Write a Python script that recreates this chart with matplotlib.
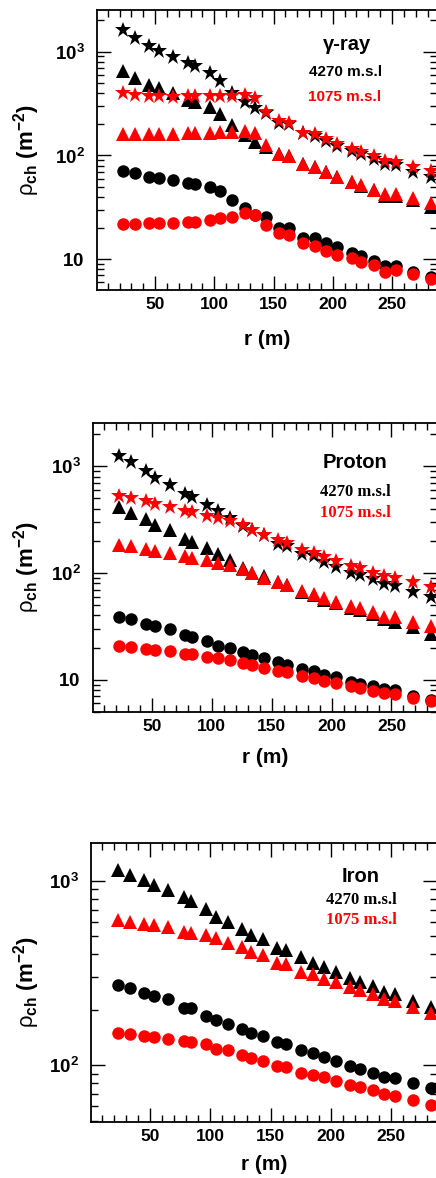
import matplotlib
matplotlib.use("Agg")
import matplotlib.pyplot as plt
from matplotlib.ticker import FixedLocator, MultipleLocator, NullFormatter

plt.rcParams["font.family"] = ["Liberation Sans", "DejaVu Sans"]
plt.rcParams["mathtext.fontset"] = "custom"
plt.rcParams["mathtext.rm"] = "Liberation Sans"
plt.rcParams["mathtext.bf"] = "Liberation Sans:bold"
plt.rcParams["mathtext.it"] = "Liberation Sans:italic"

# radial distance (m), same for every panel
r = [23, 33, 45, 53, 65, 78, 84, 96, 105, 115, 126, 134, 144,
     155, 163, 175, 185, 194, 204, 216, 224, 235, 244, 253, 268, 283]

# gamma-ray
gamma_star_4270 = [1618, 1344, 1143, 1022, 896, 773, 733, 628, 522, 403, 330, 284, 255,
                   207, 201, 163, 154, 139, 124, 111, 103, 92, 83, 81, 70, 62.5]
gamma_star_1075 = [397, 383, 374, 374, 369, 374, 374, 374, 377, 377, 383, 356, 265,
                   216, 204, 166, 160, 143, 129, 116, 109, 99, 89, 87, 78, 71]
gamma_tri_4270 = [656, 562, 478, 444, 397, 343, 330, 295, 251, 197, 157, 136, 120,
                  103, 99.6, 83, 78, 70, 61.6, 55, 51, 46, 40.7, 40.7, 37, 32]
gamma_tri_1075 = [161, 160, 160, 160, 160, 166, 166, 166, 170, 170, 173, 166, 126,
                  103, 99, 82, 78, 69, 61.6, 56, 52, 47, 43, 43, 38.7, 35]
gamma_circ_4270 = [71.5, 67.3, 62.5, 60.2, 58, 54.7, 53.2, 50.1, 45.8, 37.3, 31, 26.7, 25.4,
                   19.9, 19.9, 16.2, 16.2, 14.5, 13, 11.4, 10.8, 9.7, 8.6, 8.6, 7.6, 6.8]
gamma_circ_1075 = [21.9, 21.9, 22.2, 22.2, 22.2, 23.1, 23.1, 23.9, 24.8, 25.7, 27.7, 26.7, 21.4,
                   18.1, 17.2, 14.3, 13.5, 12.1, 11, 10.2, 9.5, 8.8, 7.6, 7.9, 7.2, 6.4]

# proton
proton_star_4270 = [1259, 1090, 910, 776, 673, 550, 512, 437, 380, 328, 278, 252, 229,
                    188, 180, 152, 143, 126, 114, 101, 95, 87, 79.4, 76, 66, 60]
proton_star_1075 = [524, 504, 469, 443, 416, 380, 370, 345, 328, 305, 280, 255, 229,
                    202, 191, 166, 154, 141, 129, 116, 111, 101, 93, 90, 82, 74]
proton_tri_4270 = [416, 365, 323, 284, 252, 210, 196, 172, 152, 132, 111, 101, 93,
                   82, 77, 66, 62, 56, 52, 47, 45, 41, 37, 35, 31, 27]
proton_tri_1075 = [182, 178, 169, 162, 154, 143, 138, 132, 124, 118, 108, 100, 90,
                   82, 78, 68, 64, 58, 54, 49, 47, 43, 39, 39, 35, 32]
proton_circ_4270 = [38.4, 37, 33.3, 31.6, 29.9, 26.4, 25.1, 23.3, 20.9, 19.8, 18, 17, 15.9,
                    14.5, 13.8, 12.6, 12, 11.1, 10.6, 9.6, 9.2, 8.7, 8.2, 8.0, 7.1, 6.5]
proton_circ_1075 = [20.5, 20.2, 19.5, 19.1, 18.7, 17.5, 17.3, 16.3, 15.9, 15.3, 14.3, 13.6, 13.0,
                    12.1, 11.7, 10.8, 10.3, 9.8, 9.3, 8.7, 8.4, 7.9, 7.5, 7.3, 6.8, 6.3]

# iron
iron_tri_4270 = [1143, 1082, 1008, 947, 897, 819, 778, 708, 638, 600, 547, 512, 483,
                 433, 424, 387, 361, 341, 321, 299, 283, 269, 250, 243, 223, 206]
iron_tri_1075 = [612, 600, 587, 575, 563, 529, 524, 512, 493, 461, 439, 412, 396,
                 361, 353, 321, 314, 295, 283, 266, 255, 243, 228, 223, 207, 192]
iron_circ_4270 = [272, 263, 248, 238, 228, 205, 205, 184, 176, 168, 157, 150, 144,
                  134, 131, 121, 117, 111, 106, 99, 96, 91, 86, 85, 80, 75]
iron_circ_1075 = [149, 147, 144, 143, 138, 136, 134, 130, 123, 121, 113, 110, 106,
                  99, 98, 91, 89, 86, 82, 78, 76, 73, 70, 68, 65, 61]

panel_titles = ["\u03b3-ray", "Proton", "Iron"]
alt_labels = ["4270 m.s.l", "1075 m.s.l"]

W, H = 436, 1178
fig = plt.figure(figsize=(W / 100, H / 100), dpi=100)


def px_axes(left, top, right, bottom):
    return fig.add_axes([left / W, 1 - bottom / H, (right - left) / W, (bottom - top) / H])


def style(ax, ylim, yticks, ylabels):
    ax.set_yscale("log")
    ax.set_xlim(1, 288)
    ax.set_ylim(*ylim)
    ax.xaxis.set_major_locator(FixedLocator([50, 100, 150, 200, 250]))
    ax.xaxis.set_minor_locator(MultipleLocator(10))
    ax.set_xticklabels(["50", "100", "150", "200", "250"], fontsize=12.5, fontweight="bold")
    ax.set_yticks(yticks)
    ax.set_yticklabels(ylabels, fontsize=13.5)
    ax.yaxis.set_minor_formatter(NullFormatter())
    ax.tick_params(which="both", direction="in", top=True, right=True, width=1)
    ax.tick_params(which="major", length=10)
    ax.tick_params(which="minor", length=5)
    ax.tick_params(axis="x", pad=5)
    ax.tick_params(axis="y", pad=9)
    for s in ax.spines.values():
        s.set_linewidth(1.3)
    ax.set_xlabel("r (m)", fontsize=15, fontweight="bold")
    ax.set_ylabel("\u03c1$_{\\mathbf{ch}}$ $\\mathbf{(m^{-2})}$", fontsize=16)


def draw(ax, series):
    for y, mk, ms, col in series:
        ax.plot(r, y, linestyle="none", marker=mk, markersize=ms, color=col,
                markeredgewidth=0, clip_on=True)


# panel 1: gamma-ray
ax1 = px_axes(97, 10, 437, 290)
draw(ax1, [(gamma_star_4270, "*", 12, "black"), (gamma_tri_4270, "^", 10, "black"),
           (gamma_circ_4270, "o", 9, "black"),
           (gamma_star_1075, "*", 12, "red"), (gamma_tri_1075, "^", 10, "red"),
           (gamma_circ_1075, "o", 9, "red")])
style(ax1, (5.06, 2520), [10, 100, 1000],
      [r"$\mathbf{10}$", r"$\mathbf{10^{2}}$", r"$\mathbf{10^{3}}$"])
ax1.xaxis.set_label_coords(0.5, -40 / 280)
ax1.yaxis.set_label_coords((42 - 97) / 340, 0.5)

# panel 2: proton
ax2 = px_axes(93, 423, 437, 712)
draw(ax2, [(proton_star_4270, "*", 12, "black"), (proton_tri_4270, "^", 10, "black"),
           (proton_circ_4270, "o", 9, "black"),
           (proton_star_1075, "*", 12, "red"), (proton_tri_1075, "^", 10, "red"),
           (proton_circ_1075, "o", 9, "red")])
style(ax2, (4.98, 2550), [10, 100, 1000],
      [r"$\mathbf{10}$", r"$\mathbf{10^{2}}$", r"$\mathbf{10^{3}}$"])
ax2.xaxis.set_label_coords(0.5, -36 / 289)
ax2.yaxis.set_label_coords((42 - 93) / 344, 0.5)

# panel 3: iron
ax3 = px_axes(91, 843, 437, 1122)
draw(ax3, [(iron_tri_4270, "^", 10, "black"), (iron_circ_4270, "o", 9, "black"),
           (iron_tri_1075, "^", 10, "red"), (iron_circ_1075, "o", 9, "red")])
style(ax3, (49.2, 1607), [100, 1000],
      [r"$\mathbf{10^{2}}$", r"$\mathbf{10^{3}}$"])
ax3.xaxis.set_label_coords(0.5, -33 / 279)
ax3.yaxis.set_label_coords((42 - 91) / 346, 0.5)


def ftext(x, y, s, **kw):
    fig.text(x / W, 1 - y / H, s, ha="center", va="center", **kw)


ftext(347, 45, panel_titles[0], fontsize=14.5, fontweight="bold")
ftext(346, 72, alt_labels[0], fontsize=11, fontweight="bold", color="black")
ftext(345, 97, alt_labels[1], fontsize=11, fontweight="bold", color="red")

ftext(355, 463, panel_titles[1], fontsize=14.5, fontweight="bold")
ftext(355, 492, alt_labels[0], fontsize=12, fontweight="bold", color="black",
      family="Liberation Serif")
ftext(355, 513, alt_labels[1], fontsize=12, fontweight="bold", color="red",
      family="Liberation Serif")

ftext(361, 877, panel_titles[2], fontsize=14.5, fontweight="bold")
ftext(361, 900, alt_labels[0], fontsize=12, fontweight="bold", color="black",
      family="Liberation Serif")
ftext(361, 920, alt_labels[1], fontsize=12, fontweight="bold", color="red",
      family="Liberation Serif")

fig.savefig("out.png", dpi=100)
